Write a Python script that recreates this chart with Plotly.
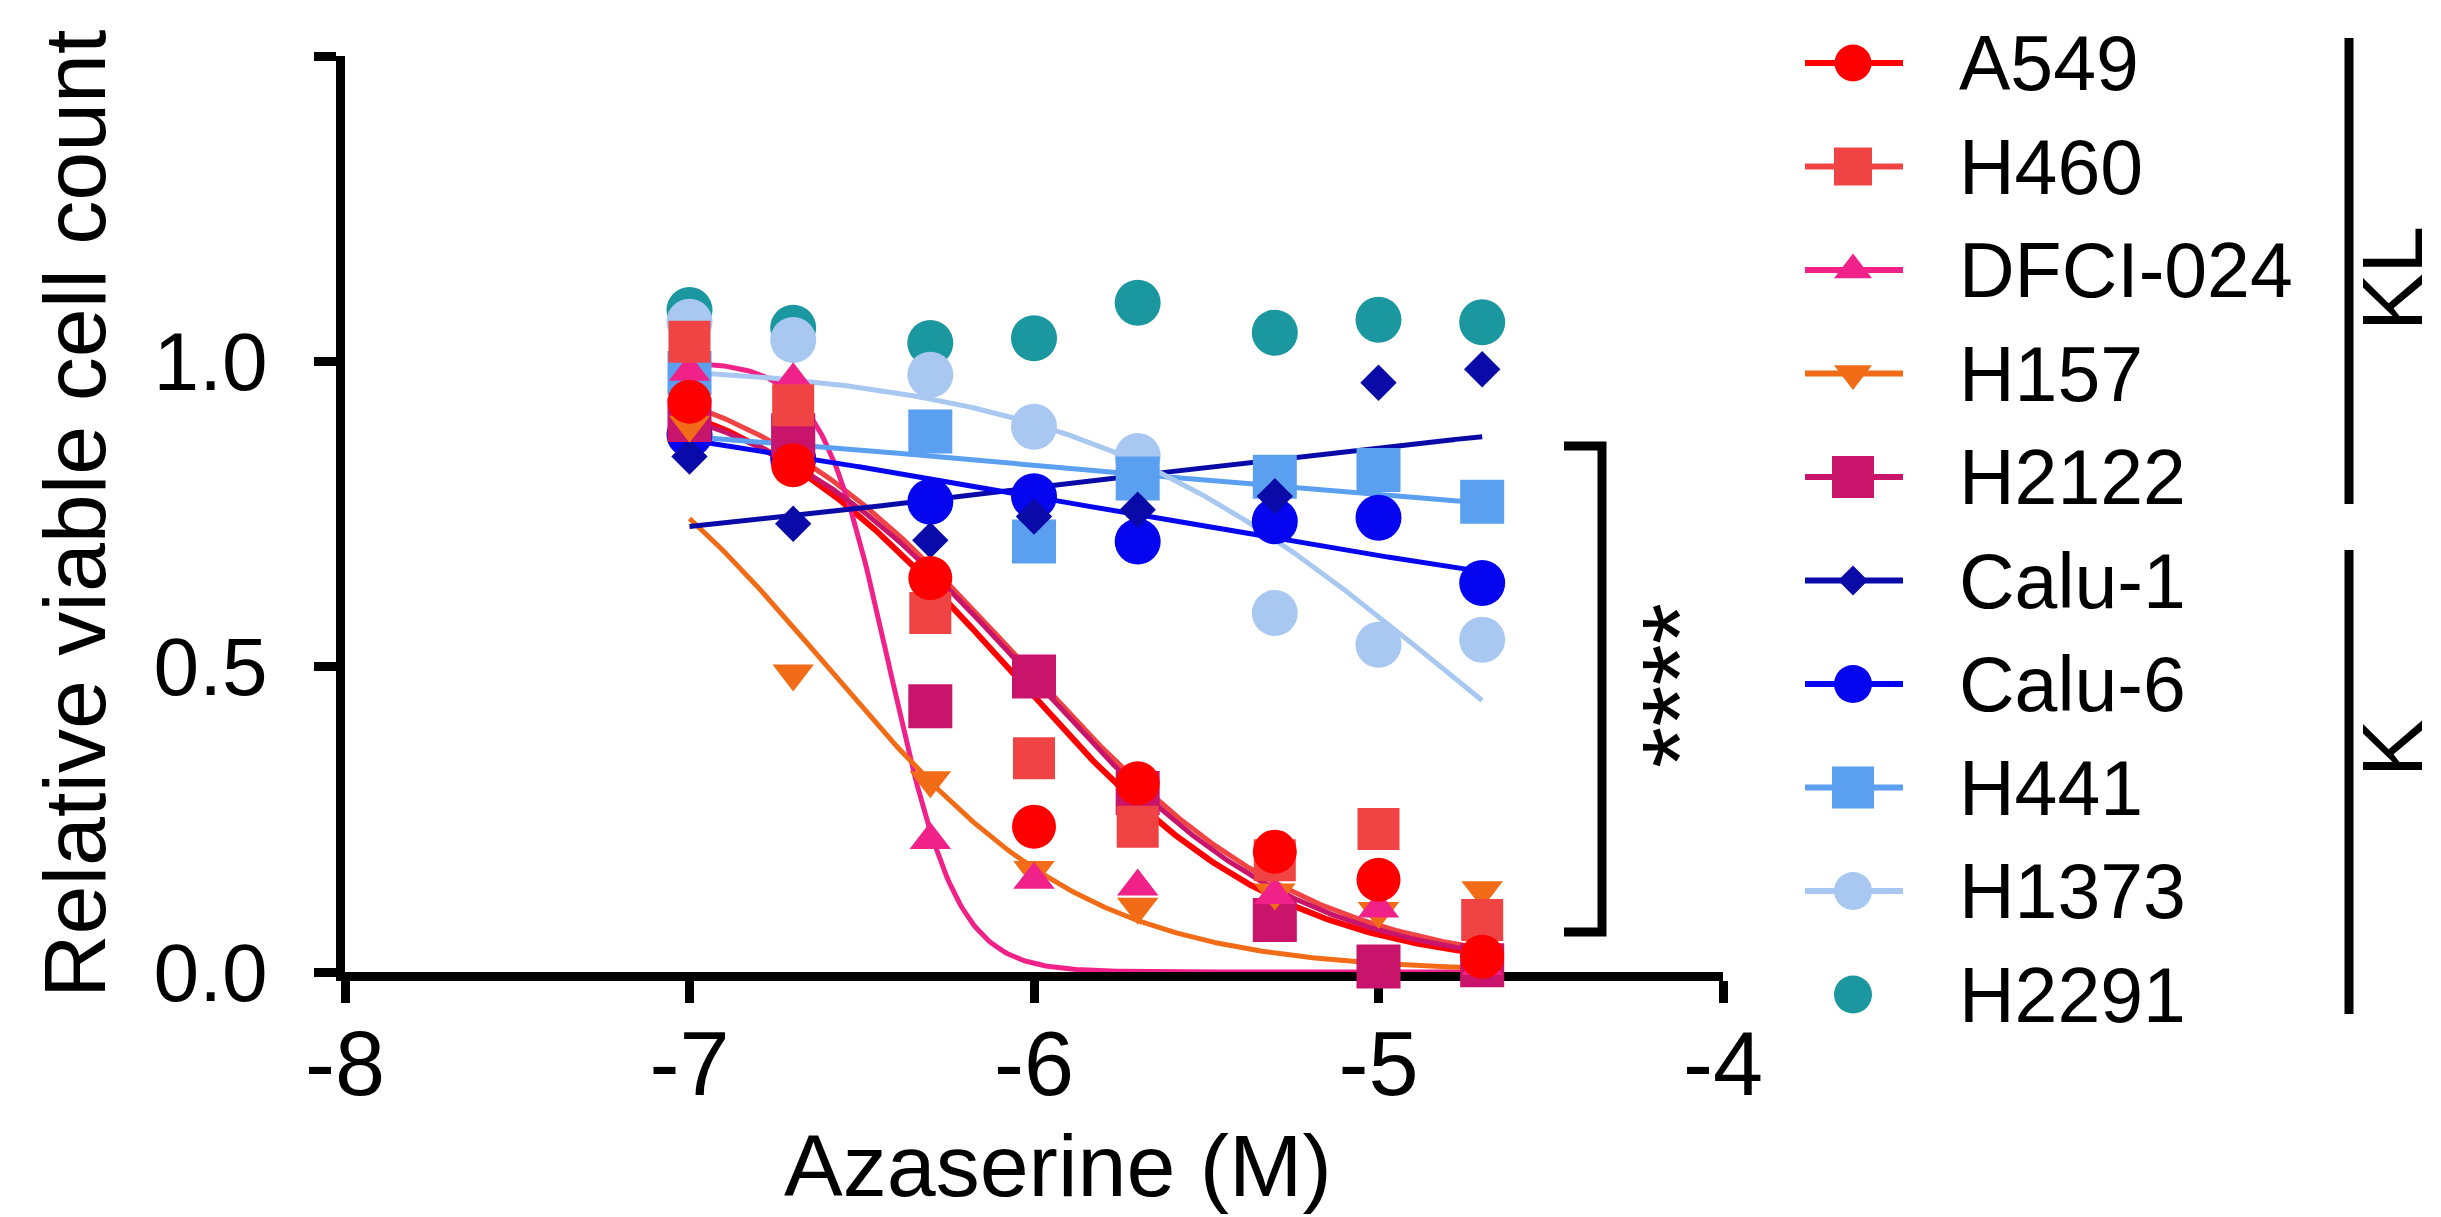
import numpy as np
import plotly.graph_objects as go

W, H = 2441, 1217

# log10 of molar azaserine concentration (0.1, 0.2, 0.5, 1, 2, 5, 10, 20 µM)
log_conc = [-7.0, -6.699, -6.301, -6.0, -5.699, -5.301, -5.0, -4.699]

cell_lines = ["A549", "H460", "DFCI-024", "H157", "H2122",
              "Calu-1", "Calu-6", "H441", "H1373", "H2291"]

# relative viable cell count per cell line
a549 = [0.934, 0.830, 0.645, 0.238, 0.309, 0.197, 0.151, 0.025]
h460 = [1.032, 0.928, 0.588, 0.350, 0.238, 0.183, 0.234, 0.085]
dfci024 = [0.983, 0.969, 0.216, 0.151, 0.140, 0.126, 0.104, 0.010]
h157 = [0.896, 0.489, 0.314, 0.167, 0.107, 0.130, 0.100, 0.134]
h2122 = [0.904, 0.879, 0.435, 0.484, 0.293, 0.085, 0.009, 0.011]
calu1 = [0.844, 0.734, 0.707, 0.746, 0.757, 0.779, 0.965, 0.987]
calu6 = [0.880, 0.840, 0.770, 0.779, 0.705, 0.738, 0.744, 0.637]
h441 = [0.981, 0.875, 0.885, 0.705, 0.808, 0.811, 0.822, 0.770]
h1373 = [1.065, 1.035, 0.978, 0.893, 0.845, 0.588, 0.536, 0.544]
h2291 = [1.084, 1.055, 1.030, 1.038, 1.096, 1.047, 1.068, 1.064]

values = [a549, h460, dfci024, h157, h2122, calu1, calu6, h441, h1373, h2291]

# four-parameter logistic fits: bottom, top, logIC50, Hill slope (None = no fit drawn)
fit_bottom = [0.0, 0.0, 0.0, 0.0, 0.0, 0.608, 0.478, 0.678, 0.0, None]
fit_top = [1.0, 1.02, 1.0, 1.0, 0.98, 0.998, 1.049, 0.967, 1.0, None]
fit_logic50 = [-6.08, -6.04, -6.42, -6.60, -6.02, -5.85, -5.85, -5.85, -4.82, None]
fit_hill = [1.10, 1.05, 4.4, 1.15, 1.10, -0.30, 0.30, 0.30, 0.80, None]

colors = ["#FF0000", "#F04444", "#F0228A", "#F26C18", "#C8146A",
          "#0A0AA8", "#0505F0", "#5A9FF0", "#A8C8F2", "#1A979F"]
symbols = ["circle", "square", "triangle-up", "triangle-down", "square",
           "diamond", "circle", "square", "circle", "circle"]
plot_sizes = [44, 42, 36, 36, 44, 28, 46, 44, 46, 46]
legend_sizes = [37, 38, 33, 33, 42, 23, 38, 42, 38, 38]
group_labels = ["KL", "K"]

FONT = "Arial, Liberation Sans, sans-serif"

fig = go.Figure()


def four_pl(x, bottom, top, logic50, hill):
    return bottom + (top - bottom) / (1.0 + 10.0 ** ((x - logic50) * hill))


# fitted curves underneath all symbols
xs = np.linspace(min(log_conc), max(log_conc), 300)
for i, name in enumerate(cell_lines):
    if fit_hill[i] is None:
        continue
    ys = four_pl(xs, fit_bottom[i], fit_top[i], fit_logic50[i], fit_hill[i])
    fig.add_trace(go.Scatter(
        x=xs, y=ys, mode="lines", showlegend=False, hoverinfo="skip",
        line=dict(color=colors[i], width=6 if i == 0 else 5),
        xaxis="x", yaxis="y"))

# data symbols, first cell line drawn last (on top)
for i in reversed(range(len(cell_lines))):
    fig.add_trace(go.Scatter(
        x=log_conc, y=values[i], mode="markers", name=cell_lines[i],
        showlegend=False, cliponaxis=False,
        marker=dict(symbol=symbols[i], size=plot_sizes[i], color=colors[i],
                    line=dict(width=0)),
        xaxis="x", yaxis="y"))

# hand-built legend on a full-figure pixel axis
row0, row_step = 63, 103.5
line_x0, line_x1, mark_x, text_x = 1805, 1903, 1853, 1957
for i, name in enumerate(cell_lines):
    ry = row0 + i * row_step
    if fit_hill[i] is not None:
        fig.add_trace(go.Scatter(
            x=[line_x0, line_x1], y=[ry, ry], mode="lines", showlegend=False,
            hoverinfo="skip", line=dict(color=colors[i], width=6),
            xaxis="x2", yaxis="y2"))
    fig.add_trace(go.Scatter(
        x=[mark_x], y=[ry], mode="markers", showlegend=False, hoverinfo="skip",
        cliponaxis=False,
        marker=dict(symbol=symbols[i], size=legend_sizes[i], color=colors[i],
                    line=dict(width=0)),
        xaxis="x2", yaxis="y2"))
    fig.add_annotation(x=text_x, y=ry, xref="x2", yref="y2", text=name,
                       showarrow=False, xanchor="left", yanchor="middle",
                       font=dict(family=FONT, size=77, color="black"))

# significance bracket and stars
fig.add_shape(type="path", xref="x2", yref="y2",
              path="M 1564 446 L 1602 446 L 1602 932 L 1564 932",
              line=dict(color="black", width=9))
fig.add_annotation(x=1679, y=686, xref="x2", yref="y2", text="****",
                   textangle=-90, showarrow=False, xanchor="center",
                   yanchor="middle", font=dict(family=FONT, size=106, color="black"))

# genotype group bars
for (y0, y1), label, ly in zip([(38, 504), (550, 1014)], group_labels, [279, 749]):
    fig.add_shape(type="line", xref="x2", yref="y2", x0=2349, x1=2349,
                  y0=y0, y1=y1, line=dict(color="black", width=9))
    fig.add_annotation(x=2392, y=ly, xref="x2", yref="y2", text=label,
                       textangle=-90, showarrow=False, xanchor="center",
                       yanchor="middle", font=dict(family=FONT, size=86, color="black"))

# axis titles
fig.add_annotation(x=1058, y=1165, xref="x2", yref="y2", text="Azaserine (M)",
                   showarrow=False, xanchor="center", yanchor="middle",
                   font=dict(family=FONT, size=88, color="black"))
fig.add_annotation(x=74, y=514, xref="x2", yref="y2",
                   text="Relative viable cell count", textangle=-90,
                   showarrow=False, xanchor="center", yanchor="middle",
                   font=dict(family=FONT, size=88, color="black"))

axis_common = dict(showline=True, linecolor="black", linewidth=9,
                   ticks="outside", ticklen=22, tickwidth=9, tickcolor="black",
                   showgrid=False, zeroline=False, layer="below traces",
                   automargin=False)

fig.update_layout(
    width=W, height=H,
    margin=dict(l=0, r=0, t=0, b=0, autoexpand=False),
    paper_bgcolor="white", plot_bgcolor="rgba(0,0,0,0)",
    showlegend=False,
    xaxis=dict(domain=[345 / W, 1723 / W], range=[-8, -4],
               tickvals=[-8, -7, -6, -5, -4], ticktext=["-8", "-7", "-6", "-5", "-4"],
               tickfont=dict(family=FONT, size=90, color="black"),
               ticklabelstandoff=-16, anchor="y", **axis_common),
    yaxis=dict(domain=[(H - 972) / H, (H - 56) / H], range=[0, 1.5],
               tickvals=[0, 0.5, 1.0, 1.5], ticktext=["0.0", "0.5", "1.0", ""],
               tickfont=dict(family=FONT, size=82, color="black"),
               ticklabelstandoff=30, anchor="x", **axis_common),
    xaxis2=dict(domain=[0, 1], range=[0, W], visible=False, anchor="y2",
                automargin=False),
    yaxis2=dict(domain=[0, 1], range=[H, 0], visible=False, anchor="x2",
                automargin=False),
)

fig.write_html("out.html")
